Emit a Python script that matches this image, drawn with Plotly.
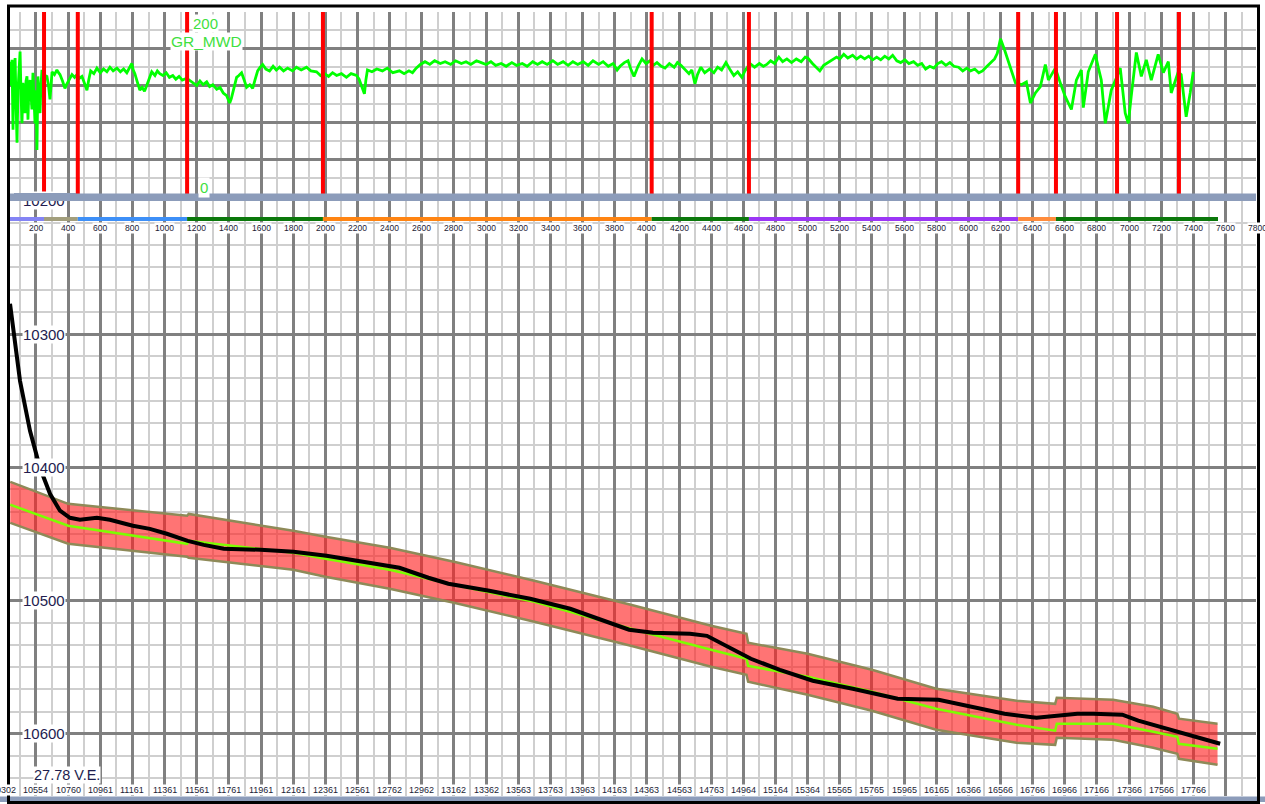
import plotly.graph_objects as go

W, H = 1265, 804
FONT = "Liberation Sans, Arial, sans-serif"

# ---------------- data ----------------
# Gamma ray (top track): vertical-section position vs API, read in segments
gr_vs = (
    [38, 44, 51, 57, 63, 70, 76, 82, 88, 94,
     101, 107, 113, 119, 125, 132, 138, 144, 150, 156,
     163, 169, 175, 181, 187, 194, 200, 206, 212, 218,
     225, 231, 237, 243]
    + [255, 268, 278, 287, 295, 300, 315, 330, 340, 349,
       365, 380, 390, 399, 410, 424, 440, 455, 470, 486]
    + [505, 517, 528, 540, 560, 579, 600, 620, 641, 660,
       680, 703, 725, 745, 765, 785, 796, 805, 815, 830,
       846, 860, 875, 889, 905, 920, 940, 955, 970, 990,
       1010, 1030, 1051, 1070, 1090, 1110, 1138]
    + [1160, 1180, 1200, 1220, 1240, 1262, 1280, 1300, 1324, 1345,
       1365, 1386, 1405, 1415, 1424, 1436, 1448, 1462, 1479, 1495,
       1510, 1530, 1548, 1562, 1579, 1595, 1610]
    + [1630, 1653, 1675, 1695, 1715, 1740, 1765, 1796, 1820, 1850,
       1883, 1910, 1945, 1970, 1995, 2020, 2045, 2070, 2100, 2131,
       2160, 2194, 2210, 2225, 2235, 2243, 2252, 2262]
    + [2290, 2320, 2355, 2385, 2420, 2461, 2490, 2520, 2542, 2565,
       2591, 2620, 2650, 2680, 2715, 2745, 2780, 2810, 2846, 2875,
       2905, 2940, 2970, 3000, 3030, 3060, 3094, 3125, 3160, 3190,
       3225, 3255, 3290, 3320, 3349, 3380, 3415, 3445, 3479, 3510,
       3540, 3570, 3604, 3635, 3665, 3700, 3728, 3760, 3790, 3815,
       3833, 3860, 3883, 3900, 3920, 3945, 3970]
    + [3995, 4020, 4040, 4063, 4090, 4113, 4140, 4170, 4190, 4212,
       4235, 4262, 4280, 4299, 4315, 4336, 4360, 4390, 4417, 4440,
       4465, 4492, 4515, 4541, 4565, 4591, 4610, 4641, 4670, 4700,
       4725, 4746, 4770, 4795, 4821, 4845, 4871, 4900, 4930, 4960,
       4985, 5001, 5030, 5050, 5076, 5100, 5125, 5150, 5180, 5200,
       5225, 5250, 5280, 5305, 5330, 5355, 5380, 5405, 5430, 5455,
       5480, 5505, 5529, 5555, 5579, 5605, 5630, 5659, 5685, 5710,
       5734, 5760, 5785, 5810, 5833, 5860, 5885, 5910, 5939, 5965,
       5990, 6014, 6040, 6065, 6088, 6110, 6140, 6163, 6180, 6190,
       6200]
    + [6225, 6250, 6293, 6330, 6361, 6386, 6417, 6448, 6479, 6498,
       6541, 6572, 6603, 6641, 6672, 6703, 6715, 6746, 6790, 6808,
       6827, 6852, 6889, 6920, 6945, 6976, 6995, 7013, 7045, 7076,
       7107, 7138, 7181, 7213, 7244, 7262, 7306, 7324, 7355, 7380,
       7399]
)
gr_api = (
    [146, 120, 148, 72, 135, 150, 100, 58, 115, 140,
     157, 110, 79, 123, 100, 90, 125, 130, 83, 118,
     126, 100, 94, 134, 105, 79, 115, 50, 130, 110,
     90, 120, 137, 126]
    + [131, 130, 120, 105, 125, 135, 132, 137, 134, 132,
       125, 117, 121, 124, 129, 132, 129, 132, 128, 130]
    + [121, 115, 126, 136, 133, 139, 134, 138, 135, 140,
       136, 139, 135, 138, 134, 140, 144, 137, 133, 124,
       115, 118, 114, 120, 127, 135, 131, 136, 133, 131,
       134, 129, 131, 127, 130, 126, 128]
    + [125, 122, 120, 125, 121, 124, 119, 121, 116, 118,
       112, 109, 101, 106, 112, 122, 129, 131, 134, 126,
       118, 121, 117, 126, 136, 140, 143]
    + [138, 136, 141, 137, 140, 136, 139, 136, 140, 137,
       140, 136, 135, 131, 133, 130, 134, 131, 133, 129,
       133, 131, 127, 120, 114, 111, 126, 137]
    + [135, 138, 136, 139, 134, 136, 133, 136, 134, 139,
       143, 146, 143, 147, 144, 146, 143, 147, 144, 146,
       143, 147, 145, 143, 146, 142, 144, 141, 145, 142,
       144, 141, 146, 143, 146, 143, 147, 143, 146, 142,
       146, 143, 146, 142, 147, 143, 146, 141, 144, 137,
       141, 145, 147, 138, 130, 141, 149]
    + [144, 147, 142, 145, 141, 139, 144, 140, 145, 142,
       138, 133, 137, 122, 132, 140, 134, 138, 134, 140,
       137, 145, 138, 131, 135, 129, 136, 144, 140, 144,
       141, 143, 147, 144, 151, 146, 149, 145, 149, 146,
       151, 150, 144, 140, 136, 142, 145, 148, 151, 149,
       154, 150, 153, 149, 152, 149, 152, 148, 151, 148,
       152, 149, 153, 147, 145, 148, 144, 146, 142, 144,
       138, 141, 139, 144, 146, 142, 145, 141, 140, 136,
       139, 136, 138, 134, 136, 140, 145, 149, 155, 165,
       171]
    + [159, 145, 123, 121, 124, 101, 112, 119, 143, 126,
       139, 123, 108, 94, 126, 137, 96, 135, 154, 140,
       126, 79, 115, 128, 139, 90, 79, 108, 156, 130,
       148, 126, 154, 134, 146, 112, 135, 132, 86, 112,
       135]
)

# Red fault / marker positions (VS)
marker_vs = [250, 460, 1140, 1985, 4030, 4635, 6310, 6545, 6925, 7310]

# Zone bar segments (VS boundaries) and their colours
zone_bounds = [38, 250, 460, 1140, 1985, 4030, 4635, 6310, 6545, 7553]
zone_colors = ["#8484f4", "#a29e7c", "#3d8ff7", "#0b780b", "#ff8412",
               "#0b780b", "#9b36f5", "#ff8c3c", "#0b780b"]

# Target zone (lower track): VS vs TVD of top, marker line and base
band_vs = [40, 400, 1140, 1150, 1800, 2000, 2400, 2800, 3300, 3900, 4400, 4620,
           4630, 5000, 5400, 5800, 6300, 6540, 6550, 6900, 7150, 7300, 7310, 7550]
band_top = [10410.9, 10427.4, 10436.4, 10435.0, 10447.7, 10452.2, 10460.4, 10470.9,
            10485.2, 10503.2, 10518.9, 10525.0, 10531.7, 10540.0, 10552.0, 10566.2,
            10575.2, 10577.5, 10573.0, 10574.5, 10579.7, 10585.0, 10588.7, 10592.5]
band_green = [10428.1, 10443.9, 10457.4, 10455.2, 10464.2, 10468.7, 10476.9, 10488.2,
              10500.9, 10521.2, 10537.0, 10543.7, 10549.0, 10557.2, 10568.5, 10581.2,
              10593.2, 10597.7, 10592.5, 10592.5, 10598.5, 10602.3, 10607.5, 10611.3]
band_base = [10441.7, 10457.4, 10467.2, 10467.9, 10476.9, 10482.2, 10491.2, 10501.7,
             10515.9, 10533.9, 10549.7, 10555.7, 10561.0, 10570.7, 10582.7, 10597.0,
             10606.8, 10608.3, 10603.0, 10604.5, 10610.5, 10615.0, 10618.8, 10623.3]

# Well path (lower track)
well_vs = [38.5, 100.6, 162.7, 224.8, 287.0, 349.1, 411.2, 473.3, 578.9, 659.6,
           802.5, 908.1, 1013.7, 1144.1, 1243.5, 1367.7, 1597.5, 1802.5, 2007.5, 2255.9,
           2460.9, 2641.0, 2765.2, 3019.9, 3274.5, 3523.0, 3678.3, 3889.4, 4038.5, 4268.3,
           4373.9, 4523.0, 4647.2, 4827.3, 5032.3, 5280.7, 5560.2, 5814.9, 6044.7, 6224.8,
           6423.6, 6554.0, 6678.3, 6777.6, 6957.8, 7057.1, 7237.3, 7436.0, 7566.5]
well_tvd = [10277.3, 10335.1, 10372.6, 10400.4, 10419.9, 10432.6, 10437.9, 10439.4, 10437.9, 10439.4,
            10443.9, 10446.2, 10449.9, 10455.2, 10458.2, 10461.2, 10461.9, 10463.4, 10466.4, 10471.7,
            10475.4, 10482.9, 10487.4, 10492.7, 10498.7, 10506.2, 10512.9, 10521.9, 10524.2, 10525.0,
            10526.5, 10535.5, 10543.7, 10552.0, 10560.2, 10566.2, 10573.7, 10574.5, 10580.5, 10585.0,
            10588.0, 10586.5, 10585.0, 10585.0, 10585.7, 10590.2, 10596.2, 10603.0, 10607.5]

# Tick labels
vs_ticks = [200, 400, 600, 800, 1000, 1200, 1400, 1600, 1800, 2000,
            2200, 2400, 2600, 2800, 3000, 3200, 3400, 3600, 3800, 4000,
            4200, 4400, 4600, 4800, 5000, 5200, 5400, 5600, 5800, 6000,
            6200, 6400, 6600, 6800, 7000, 7200, 7400, 7600, 7800]
md_tick_vs = [0, 200, 400, 600, 800, 1000, 1200, 1400, 1600, 1800,
              2000, 2200, 2400, 2600, 2800, 3000, 3200, 3400, 3600, 3800,
              4000, 4200, 4400, 4600, 4800, 5000, 5200, 5400, 5600, 5800,
              6000, 6200, 6400, 6600, 6800, 7000, 7200, 7400]
md_labels = ["10302", "10554", "10760", "10961", "11161", "11361", "11561", "11761", "11961", "12161",
             "12361", "12561", "12762", "12962", "13162", "13362", "13563", "13763", "13963", "14163",
             "14363", "14563", "14763", "14964", "15164", "15364", "15565", "15765", "15965", "16165",
             "16366", "16566", "16766", "16966", "17166", "17366", "17566", "17766"]
tvd_ticks = [10200, 10300, 10400, 10500, 10600]

# ---------------- layout geometry ----------------
X_RANGE = [38.3, 7789.4]
X_DOM = [10 / W, 1256 / W]
Y_LOW_RANGE = [10646.7, 10199.4]
Y_LOW_DOM = [1 - 796 / H, 1 - 200 / H]
Y_TOP_DOM = [1 - 196 / H, 1 - 12 / H]


def ypx(p):
    return 1 - p / H


def vs_to_paper(v):
    return X_DOM[0] + (v - X_RANGE[0]) / (X_RANGE[1] - X_RANGE[0]) * (X_DOM[1] - X_DOM[0])


MAJ = "#808080"
MIN = "#cfcfcf"
BAND_GREY = "#8c9cba"

fig = go.Figure()

# Target-zone fill
fig.add_trace(go.Scatter(x=band_vs, y=band_top, mode="lines", line=dict(width=0),
                         xaxis="x", yaxis="y", hoverinfo="skip"))
fig.add_trace(go.Scatter(x=band_vs, y=band_base, mode="lines", line=dict(width=0),
                         fill="tonexty", fillcolor="rgba(255,30,30,0.62)",
                         xaxis="x", yaxis="y", hoverinfo="skip"))
for arr in (band_top, band_base):
    fig.add_trace(go.Scatter(x=band_vs, y=arr, mode="lines",
                             line=dict(color="#8e8a58", width=2.5),
                             xaxis="x", yaxis="y", hoverinfo="skip"))
fig.add_trace(go.Scatter(x=band_vs, y=band_green, mode="lines",
                         line=dict(color="#7cff00", width=2.5),
                         xaxis="x", yaxis="y", hoverinfo="skip"))
fig.add_trace(go.Scatter(x=well_vs, y=well_tvd, mode="lines",
                         line=dict(color="#000000", width=4),
                         xaxis="x", yaxis="y", hoverinfo="skip"))

# Gamma ray
fig.add_trace(go.Scatter(x=gr_vs, y=gr_api, mode="lines",
                         line=dict(color="#00ff00", width=2.8),
                         xaxis="x2", yaxis="y2", hoverinfo="skip"))

shapes = []
for v in marker_vs:
    shapes.append(dict(type="line", xref="x2", yref="y2 domain", x0=v, x1=v, y0=0, y1=1,
                       line=dict(color="#ff0000", width=4), layer="above"))
for i, c in enumerate(zone_colors):
    shapes.append(dict(type="line", xref="x", yref="paper",
                       x0=zone_bounds[i], x1=zone_bounds[i + 1], y0=ypx(219), y1=ypx(219),
                       line=dict(color=c, width=4), layer="above"))
shapes.append(dict(type="rect", xref="paper", yref="paper", x0=X_DOM[0], x1=X_DOM[1],
                   y0=ypx(201), y1=ypx(193.5), fillcolor=BAND_GREY, line=dict(width=0),
                   layer="above"))
shapes.append(dict(type="rect", xref="paper", yref="paper", x0=0, x1=1,
                   y0=ypx(802), y1=ypx(796.5), fillcolor=BAND_GREY, line=dict(width=0),
                   layer="above"))
shapes.append(dict(type="rect", xref="paper", yref="paper", x0=8.5 / W, x1=1258.5 / W,
                   y0=ypx(802.5), y1=ypx(6), fillcolor="rgba(0,0,0,0)",
                   line=dict(color="#000000", width=3), layer="above"))

annotations = []
# depth labels (white boxes), 10200 first so a piece of the separator band can cover it
for t in tvd_ticks:
    annotations.append(dict(xref="paper", yref="y", x=22 / W, y=t, text=str(t),
                            showarrow=False, font=dict(family=FONT, size=15, color="#231c4f"),
                            bgcolor="white", borderpad=0, xanchor="left", yanchor="middle"))
annotations.append(dict(xref="paper", yref="paper", x=14 / W, y=ypx(197.25), text="\u00a0",
                        showarrow=False, font=dict(size=1), width=62, height=7.5,
                        bgcolor=BAND_GREY, borderpad=0, borderwidth=0,
                        xanchor="left", yanchor="middle"))
# top VS labels
for v in vs_ticks:
    if v <= X_RANGE[1]:
        ax = dict(xref="x", x=v)
    else:
        ax = dict(xref="paper", x=vs_to_paper(v))
    annotations.append(dict(**ax, yref="paper", y=ypx(228.5), text=str(v), showarrow=False,
                            font=dict(family=FONT, size=8.5, color="#1c1c36"),
                            bgcolor="white", borderpad=0, xanchor="center", yanchor="middle"))
# bottom MD labels
for v, lab in zip(md_tick_vs, md_labels):
    if v >= X_RANGE[0]:
        ax = dict(xref="x", x=v)
    else:
        ax = dict(xref="paper", x=vs_to_paper(v))
    annotations.append(dict(**ax, yref="paper", y=ypx(790), text=lab, showarrow=False,
                            font=dict(family=FONT, size=9, color="#1c1c36"),
                            bgcolor="white", borderpad=0, xanchor="center", yanchor="middle"))
# GR scale labels
GREEN_TXT = "#3fe03f"
annotations.append(dict(xref="paper", yref="paper", x=205 / W, y=ypx(24), text="200",
                        showarrow=False, font=dict(family=FONT, size=15, color=GREEN_TXT),
                        bgcolor="white", borderpad=0, xanchor="center", yanchor="middle"))
annotations.append(dict(xref="paper", yref="paper", x=206 / W, y=ypx(41), text="GR_MWD",
                        showarrow=False, font=dict(family=FONT, size=15.5, color=GREEN_TXT),
                        bgcolor="white", borderpad=0, xanchor="center", yanchor="middle"))
annotations.append(dict(xref="paper", yref="paper", x=204 / W, y=ypx(187), text="0",
                        showarrow=False, font=dict(family=FONT, size=15, color=GREEN_TXT),
                        bgcolor="white", borderpad=1, xanchor="center", yanchor="middle"))
annotations.append(dict(xref="paper", yref="paper", x=33 / W, y=ypx(775), text="27.78 V.E.",
                        showarrow=False, font=dict(family=FONT, size=14.5, color="#1e1e4e"),
                        bgcolor="white", borderpad=0, xanchor="left", yanchor="middle"))

xcommon = dict(range=X_RANGE, domain=X_DOM, tick0=0, dtick=200, showgrid=True,
               gridcolor=MAJ, gridwidth=3, zeroline=False, showline=False,
               showticklabels=False, ticks="",
               minor=dict(dtick=100, showgrid=True, gridcolor=MIN, gridwidth=2))

fig.update_layout(
    width=W, height=H, margin=dict(l=0, r=0, t=0, b=0),
    paper_bgcolor="white", plot_bgcolor="white",
    showlegend=False, hovermode=False,
    xaxis=dict(**xcommon, anchor="y"),
    xaxis2=dict(**xcommon, anchor="y2", matches="x"),
    yaxis=dict(range=Y_LOW_RANGE, domain=Y_LOW_DOM, anchor="x", tick0=10200, dtick=100,
               showgrid=True, gridcolor=MAJ, gridwidth=3, zeroline=False, showline=False,
               showticklabels=False, ticks="",
               minor=dict(tick0=10200, dtick=100 / 6, showgrid=True, gridcolor=MIN, gridwidth=2)),
    yaxis2=dict(range=[0, 200], domain=Y_TOP_DOM, anchor="x2", tick0=0, dtick=40,
                showgrid=True, gridcolor=MAJ, gridwidth=3, zeroline=False, showline=False,
                showticklabels=False, ticks="",
                minor=dict(dtick=20, showgrid=True, gridcolor=MIN, gridwidth=2)),
    shapes=shapes, annotations=annotations,
)

fig.write_html("out.html", config={"displayModeBar": False})
